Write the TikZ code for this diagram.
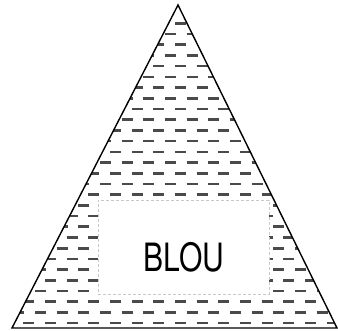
\documentclass[tikz,border=0pt]{standalone}
\usepackage{fontspec}
\setsansfont{TeX Gyre Heros}
\usetikzlibrary{calc}
\definecolor{waveG}{HTML}{4A4A4A}
\definecolor{frameG}{HTML}{C8C8C8}

\begin{document}
\begin{tikzpicture}[x=1pt, y=-1pt,
  outline/.style={draw=black, line width=1.4pt, line join=miter},
  waves/.style={
    draw=waveG, line width=2.6pt,
    dash pattern=on 11pt off 10.67pt
  },
  hole/.style={
    fill=white, draw=frameG, line width=0.5pt,
    densely dashed,
    minimum width=171pt, minimum height=94pt,
    inner sep=0pt
  },
  tag/.style={
    font=\sffamily\fontsize{39}{39}\selectfont,
    inner sep=0pt, xscale=0.77, transform shape
  },
]
\useasboundingbox (0,0) rectangle (338,331);

%% ═══ TRIANGLE ═══
\coordinate (apex) at (178,5);
\coordinate (left) at (12,328);
\coordinate (right) at (337,328);

%% ═══ WATER HATCH ═══
\begin{scope}
  \clip (apex) -- (left) -- (right) -- cycle;
  \foreach \i in {0,...,28}{
    \pgfmathsetmacro{\yy}{23.3+10.71*\i}
    \pgfmathsetmacro{\xs}{ifthenelse(mod(\i,2)==0,1.67,-8.4)}
    \draw[waves] (\xs,\yy) -- (340,\yy);
  }
\end{scope}

%% ═══ LABEL ═══
\node[hole] (box) at (183.5,247) {};
\node[tag] (blou) at (184,257) {BLOU};

\draw[outline] (apex) -- (left) -- (right) -- cycle;

\end{tikzpicture}
\end{document}
